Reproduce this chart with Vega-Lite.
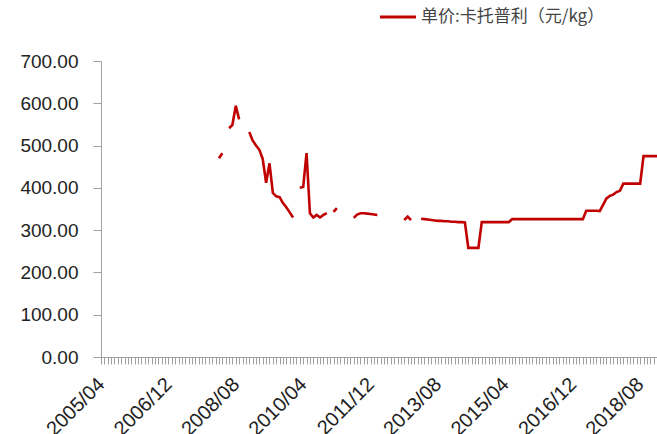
{
  "$schema": "https://vega.github.io/schema/vega-lite/v6.json",
  "width": 556,
  "height": 296,
  "autosize": {"type": "none"},
  "padding": {"left": 101, "top": 61, "right": 0, "bottom": 77},
  "background": "white",
  "config": {"view": {"stroke": null}, "font": "Liberation Sans"},
  "data": {"values": [
    {"m":"2005/04","p":null},{"m":"2005/05","p":null},{"m":"2005/06","p":null},{"m":"2005/07","p":null},{"m":"2005/08","p":null},{"m":"2005/09","p":null},{"m":"2005/10","p":null},{"m":"2005/11","p":null},{"m":"2005/12","p":null},
    {"m":"2006/01","p":null},{"m":"2006/02","p":null},{"m":"2006/03","p":null},{"m":"2006/04","p":null},{"m":"2006/05","p":null},{"m":"2006/06","p":null},{"m":"2006/07","p":null},{"m":"2006/08","p":null},{"m":"2006/09","p":null},{"m":"2006/10","p":null},{"m":"2006/11","p":null},{"m":"2006/12","p":null},
    {"m":"2007/01","p":null},{"m":"2007/02","p":null},{"m":"2007/03","p":null},{"m":"2007/04","p":null},{"m":"2007/05","p":null},{"m":"2007/06","p":null},{"m":"2007/07","p":null},{"m":"2007/08","p":null},{"m":"2007/09","p":null},{"m":"2007/10","p":null},{"m":"2007/11","p":null},{"m":"2007/12","p":null},
    {"m":"2008/01","p":null},{"m":"2008/02","p":null},{"m":"2008/03","p":470},{"m":"2008/04","p":482},{"m":"2008/05","p":null},{"m":"2008/06","p":541},{"m":"2008/07","p":549},{"m":"2008/08","p":594},{"m":"2008/09","p":562},{"m":"2008/10","p":null},{"m":"2008/11","p":null},{"m":"2008/12","p":532},
    {"m":"2009/01","p":512},{"m":"2009/02","p":500},{"m":"2009/03","p":490},{"m":"2009/04","p":468},{"m":"2009/05","p":412},{"m":"2009/06","p":458},{"m":"2009/07","p":388},{"m":"2009/08","p":380},{"m":"2009/09","p":378},{"m":"2009/10","p":364},{"m":"2009/11","p":354},{"m":"2009/12","p":342},
    {"m":"2010/01","p":330},{"m":"2010/02","p":null},{"m":"2010/03","p":400},{"m":"2010/04","p":402},{"m":"2010/05","p":482},{"m":"2010/06","p":340},{"m":"2010/07","p":330},{"m":"2010/08","p":336},{"m":"2010/09","p":330},{"m":"2010/10","p":336},{"m":"2010/11","p":340},{"m":"2010/12","p":null},
    {"m":"2011/01","p":343},{"m":"2011/02","p":352},{"m":"2011/03","p":null},{"m":"2011/04","p":null},{"m":"2011/05","p":null},{"m":"2011/06","p":null},{"m":"2011/07","p":329},{"m":"2011/08","p":337},{"m":"2011/09","p":340},{"m":"2011/10","p":340},{"m":"2011/11","p":339},{"m":"2011/12","p":338},
    {"m":"2012/01","p":337},{"m":"2012/02","p":336},{"m":"2012/03","p":null},{"m":"2012/04","p":null},{"m":"2012/05","p":null},{"m":"2012/06","p":null},{"m":"2012/07","p":null},{"m":"2012/08","p":null},{"m":"2012/09","p":null},{"m":"2012/10","p":324},{"m":"2012/11","p":332},{"m":"2012/12","p":324},
    {"m":"2013/01","p":null},{"m":"2013/02","p":null},{"m":"2013/03","p":327},{"m":"2013/04","p":326},{"m":"2013/05","p":325},{"m":"2013/06","p":324},{"m":"2013/07","p":323},{"m":"2013/08","p":322},{"m":"2013/09","p":322},{"m":"2013/10","p":321},{"m":"2013/11","p":321},{"m":"2013/12","p":320},
    {"m":"2014/01","p":320},{"m":"2014/02","p":319},{"m":"2014/03","p":319},{"m":"2014/04","p":318},{"m":"2014/05","p":258},{"m":"2014/06","p":258},{"m":"2014/07","p":258},{"m":"2014/08","p":258},{"m":"2014/09","p":319},{"m":"2014/10","p":319},{"m":"2014/11","p":319},{"m":"2014/12","p":319},
    {"m":"2015/01","p":319},{"m":"2015/02","p":319},{"m":"2015/03","p":319},{"m":"2015/04","p":319},{"m":"2015/05","p":319},{"m":"2015/06","p":326},{"m":"2015/07","p":326},{"m":"2015/08","p":326},{"m":"2015/09","p":326},{"m":"2015/10","p":326},{"m":"2015/11","p":326},{"m":"2015/12","p":326},
    {"m":"2016/01","p":326},{"m":"2016/02","p":326},{"m":"2016/03","p":326},{"m":"2016/04","p":326},{"m":"2016/05","p":326},{"m":"2016/06","p":326},{"m":"2016/07","p":326},{"m":"2016/08","p":326},{"m":"2016/09","p":326},{"m":"2016/10","p":326},{"m":"2016/11","p":326},{"m":"2016/12","p":326},
    {"m":"2017/01","p":326},{"m":"2017/02","p":326},{"m":"2017/03","p":326},{"m":"2017/04","p":346},{"m":"2017/05","p":346},{"m":"2017/06","p":346},{"m":"2017/07","p":346},{"m":"2017/08","p":345},{"m":"2017/09","p":360},{"m":"2017/10","p":375},{"m":"2017/11","p":381},{"m":"2017/12","p":384},
    {"m":"2018/01","p":390},{"m":"2018/02","p":393},{"m":"2018/03","p":410},{"m":"2018/04","p":410},{"m":"2018/05","p":410},{"m":"2018/06","p":410},{"m":"2018/07","p":410},{"m":"2018/08","p":410},{"m":"2018/09","p":475},{"m":"2018/10","p":475},{"m":"2018/11","p":475},{"m":"2018/12","p":475},
    {"m":"2019/01","p":475}
  ]},
  "mark": {"type": "line", "strokeWidth": 2.6, "invalid": "break-paths-show-domains"},
  "encoding": {
    "x": {
      "field": "m", "type": "ordinal", "sort": null,
      "scale": {"type": "point", "padding": 0},
      "axis": {
        "title": null,
        "labelExpr": "indexof(['2005/04','2006/12','2008/08','2010/04','2011/12','2013/08','2015/04','2016/12','2018/08'], datum.value) >= 0 ? datum.value : ''",
        "labelAngle": -45, "labelAlign": "right", "labelBaseline": "middle",
        "labelFontSize": 20, "labelColor": "#222222", "labelOverlap": false, "labelBound": false,
        "labelPadding": 17, "tickSize": 7, "tickColor": "#a0a0a0", "domainColor": "#a0a0a0", "grid": false
      }
    },
    "y": {
      "field": "p", "type": "quantitative",
      "scale": {"domain": [0, 700]},
      "axis": {
        "title": null, "values": [0, 100, 200, 300, 400, 500, 600, 700], "format": ".2f",
        "grid": false, "tickSize": 8, "tickColor": "#a0a0a0", "domainColor": "#a0a0a0",
        "labelFontSize": 19, "labelPadding": 15, "labelColor": "#222222"
      }
    },
    "color": {
      "datum": "单价:卡托普利（元/kg）",
      "scale": {"range": ["#c00000"]},
      "legend": {
        "title": null, "orient": "none", "legendX": 277, "legendY": -64,
        "symbolType": "stroke", "symbolSize": 1300, "symbolStrokeWidth": 3,
        "labelFont": "Noto Sans CJK SC", "labelFontSize": 17, "labelColor": "#444444",
        "labelLimit": 400, "labelOffset": 3, "padding": 0
      }
    }
  }
}
